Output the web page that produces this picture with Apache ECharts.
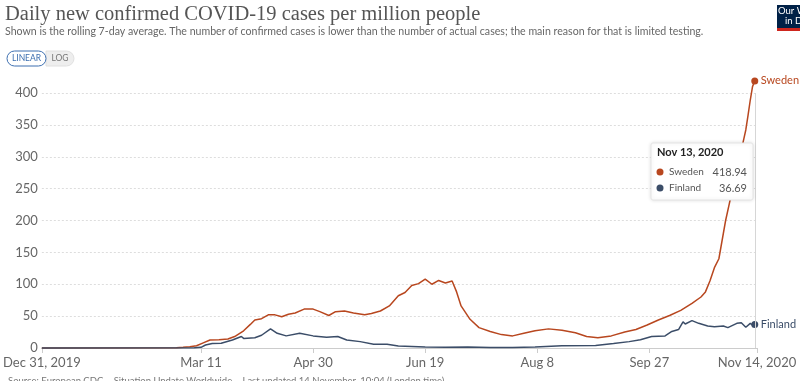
<!DOCTYPE html>
<html>
<head>
<meta charset="utf-8">
<script src="https://cdn.jsdelivr.net/npm/echarts@6/dist/echarts.min.js"></script>
<style>
html,body{margin:0;padding:0;background:#fff;}
#chart{width:800px;height:381px;}
</style>
</head>
<body>
<div id="chart"></div>
<script>
// ---- data (7-day rolling average, cases per million) ----
const swedenDates = ['2019-12-31','2020-02-29','2020-03-03','2020-03-06','2020-03-09','2020-03-12','2020-03-15','2020-03-19','2020-03-23','2020-03-26','2020-03-30','2020-04-02','2020-04-04','2020-04-07','2020-04-10','2020-04-13','2020-04-16','2020-04-19','2020-04-22','2020-04-26','2020-04-30','2020-05-03','2020-05-07','2020-05-10','2020-05-14','2020-05-18','2020-05-23','2020-05-26','2020-05-30','2020-06-03','2020-06-07','2020-06-10','2020-06-13','2020-06-16','2020-06-19','2020-06-22','2020-06-25','2020-06-28','2020-07-01','2020-07-03','2020-07-05','2020-07-09','2020-07-13','2020-07-18','2020-07-23','2020-07-28','2020-08-02','2020-08-07','2020-08-13','2020-08-19','2020-08-25','2020-08-30','2020-09-04','2020-09-10','2020-09-16','2020-09-21','2020-09-26','2020-10-01','2020-10-06','2020-10-11','2020-10-16','2020-10-20','2020-10-22','2020-10-24','2020-10-26','2020-10-28','2020-10-29','2020-10-30','2020-10-31','2020-11-02','2020-11-04','2020-11-06','2020-11-08','2020-11-09','2020-11-10','2020-11-11','2020-11-12','2020-11-13'];
const swedenValues = [0,0.3,1,2,3.5,8,12.5,13,14,18,27,37,44,46,52,52,49,53,55,61,61,57,51,57,58,55,52,54,58,66,82,87,98,101,108,100,106,102,105,88,66,45,32,26,21,19,23,27,30,28,24,18,16,19,25,29,36,44,51,59,70,80,88,105,126,140,160,180,200,232,262,295,326,342,365,389,410,418.94];

const finlandDates = ['2019-12-31','2020-03-08','2020-03-11','2020-03-13','2020-03-16','2020-03-20','2020-03-25','2020-03-29','2020-03-30','2020-04-04','2020-04-07','2020-04-11','2020-04-14','2020-04-18','2020-04-24','2020-04-30','2020-05-06','2020-05-11','2020-05-15','2020-05-21','2020-05-27','2020-06-02','2020-06-07','2020-06-13','2020-06-19','2020-06-28','2020-07-08','2020-07-18','2020-07-28','2020-08-07','2020-08-19','2020-09-03','2020-09-11','2020-09-18','2020-09-23','2020-09-28','2020-10-04','2020-10-07','2020-10-10','2020-10-12','2020-10-13','2020-10-16','2020-10-19','2020-10-23','2020-10-26','2020-10-30','2020-11-01','2020-11-05','2020-11-07','2020-11-09','2020-11-11','2020-11-12','2020-11-13'];
const finlandValues = [0,0.3,1,4.7,7,7.5,12.5,18,15,16,20,30,23,19,23,19,17,18,12.5,10,6,6,3,2.5,1.6,1,1.5,0.8,0.6,1.5,3.5,4,7,10,13,18,19,26,29,41,37.6,43,38.7,34.5,33.5,34.5,32,38.7,39.7,32.5,38.7,36,36.69];

const xTickDates = ['2019-12-31','2020-03-11','2020-04-30','2020-06-19','2020-08-08','2020-09-27','2020-11-14'];
const xTickLabels = ['Dec 31, 2019','Mar 11','Apr 30','Jun 19','Aug 8','Sep 27','Nov 14, 2020'];
const yTicks = [0,50,100,150,200,250,300,350,400];

const hoverDate = '2020-11-13';
const hoverLabel = 'Nov 13, 2020';

const SWE = '#b8471f';
const FIN = '#3b4d68';

// day offset from the first date
const DAY = 86400000;
const base = Date.UTC(2019, 11, 31);
function dayOf(s){ return Math.round((new Date(s + 'T00:00:00Z').getTime() - base) / DAY); }
const tickDays = xTickDates.map(dayOf);

function pairs(dates, vals){ return dates.map((d,i)=>[dayOf(d), vals[i]]); }

const chart = echarts.init(document.getElementById('chart'), null, {renderer:'canvas'});

function lastOnly(n){ return (v, p) => p.dataIndex === n-1 ? 7 : 0; }

const option = {
  animation:false,
  textStyle:{fontFamily:'Lato'},
  grid:{left:30, right:43, top:93, bottom:33, containLabel:false},
  xAxis:{
    type:'value',
    min: tickDays[0],
    max: tickDays[tickDays.length-1],
    axisLine:{show:true, lineStyle:{color:'#cccccc', width:1}},
    axisTick:{show:true, customValues: tickDays, length:5, lineStyle:{color:'#cccccc'}},
    axisLabel:{
      customValues: tickDays,
      formatter: v => { const i = tickDays.indexOf(Math.round(v)); return i>=0 ? xTickLabels[i] : ''; },
      color:'#666', fontSize:13, fontFamily:'Lato', margin:8,
      showMinLabel:true, showMaxLabel:true, hideOverlap:false
    },
    splitLine:{show:false}
  },
  yAxis:{
    type:'value', min:yTicks[0], max:yTicks[yTicks.length-1], interval:yTicks[1]-yTicks[0],
    axisLine:{show:false}, axisTick:{show:false},
    axisLabel:{color:'#666', fontSize:13, fontFamily:'Lato', margin:4},
    splitLine:{show:true, lineStyle:{color:'#dddddd', type:[2,2], width:1}}
  },
  series:[
    {
      name:'Sweden', type:'line', data: pairs(swedenDates, swedenValues),
      clip:false, symbol:'circle', showSymbol:true, showAllSymbol:true,
      symbolSize: lastOnly(swedenDates.length),
      itemStyle:{color:SWE}, lineStyle:{color:SWE, width:1.5},
      endLabel:{show:true, formatter:'{a}', color:SWE, fontSize:11, fontFamily:'Lato', distance:6},
      markLine:{silent:true, symbol:'none', label:{show:false}, animation:false,
        lineStyle:{color:'#d6d6d6', type:'solid', width:1},
        data:[{xAxis: dayOf(hoverDate)}]}
    },
    {
      name:'Finland', type:'line', data: pairs(finlandDates, finlandValues),
      clip:false, symbol:'circle', showSymbol:true, showAllSymbol:true,
      symbolSize: lastOnly(finlandDates.length),
      itemStyle:{color:FIN}, lineStyle:{color:FIN, width:1.5},
      endLabel:{show:true, formatter:'{a}', color:FIN, fontSize:11, fontFamily:'Lato', distance:6}
    }
  ],
  graphic:[
    {type:'text', left:5, top:4, style:{text:'Daily new confirmed COVID-19 cases per million people', font:'20.5px "Liberation Serif"', fill:'#555'}},
    {type:'text', left:5, top:26, style:{text:'Shown is the rolling 7-day average. The number of confirmed cases is lower than the number of actual cases; the main reason for that is limited testing.', font:'10.6px Lato', fill:'#666'}},
    // scale toggle buttons
    {type:'rect', shape:{x:46, y:51, width:28, height:15, r:[0,8,8,0]}, style:{fill:'#eeeeee', stroke:'#e0e0e0'}},
    {type:'rect', shape:{x:7, y:51, width:39, height:15, r:8}, style:{fill:'#fff', stroke:'#3d6fb0', lineWidth:1}},
    {type:'text', x:26.5, y:58.5, style:{text:'LINEAR', font:'8.5px Lato', fill:'#3d6fb0', align:'center', verticalAlign:'middle'}},
    {type:'text', x:60, y:58.5, style:{text:'LOG', font:'8.5px Lato', fill:'#777', align:'center', verticalAlign:'middle'}},
    // logo
    {type:'rect', shape:{x:777, y:5, width:60, height:23}, style:{fill:'#002147'}},
    {type:'rect', shape:{x:777, y:28, width:60, height:3}, style:{fill:'#ce261e'}},
    {type:'text', x:778, y:6, style:{text:'Our World', font:'9.5px Lato', fill:'#fff'}},
    {type:'text', x:785, y:16, style:{text:'in Data', font:'9.5px Lato', fill:'#fff'}},
    // tooltip
    {type:'rect', shape:{x:651, y:143, width:102, height:57, r:2}, style:{fill:'#fff', stroke:'#e4e4e4', shadowBlur:4, shadowColor:'rgba(0,0,0,0.12)'}, z:100},
    {type:'text', x:657, y:147, z:101, style:{text:hoverLabel, font:'bold 11px Lato', fill:'#222'}},
    {type:'circle', shape:{cx:660, cy:172, r:3.5}, style:{fill:SWE}, z:101},
    {type:'text', x:669, y:172, z:101, style:{text:'Sweden', font:'10px Lato', fill:'#555', verticalAlign:'middle'}},
    {type:'text', x:747, y:172, z:101, style:{text:swedenValues[swedenValues.length-1].toFixed(2), font:'11px Lato', fill:'#555', align:'right', verticalAlign:'middle'}},
    {type:'circle', shape:{cx:660, cy:188, r:3.5}, style:{fill:FIN}, z:101},
    {type:'text', x:669, y:188, z:101, style:{text:'Finland', font:'10px Lato', fill:'#555', verticalAlign:'middle'}},
    {type:'text', x:747, y:188, z:101, style:{text:finlandValues[finlandValues.length-1].toFixed(2), font:'11px Lato', fill:'#555', align:'right', verticalAlign:'middle'}},
    // source
    {type:'text', left:8, top:376, style:{text:'Source: European CDC – Situation Update Worldwide – Last updated 14 November, 10:04 (London time)', font:'9.5px Lato', fill:'#777'}}
  ]
};
chart.setOption(option);
</script>
</body>
</html>
